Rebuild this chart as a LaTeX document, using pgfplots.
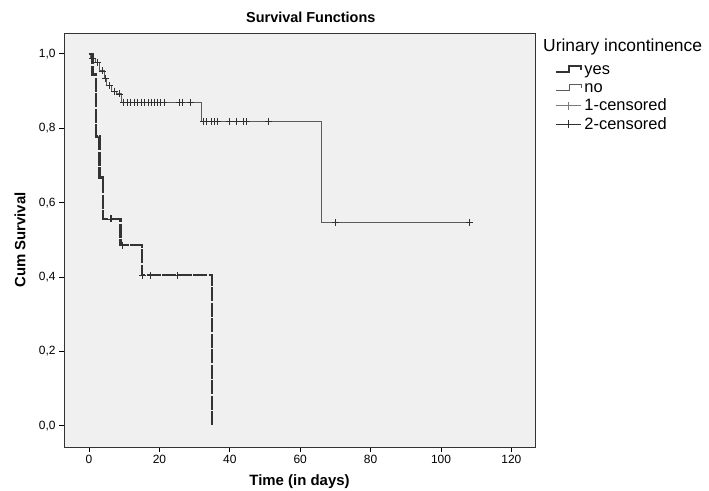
\documentclass[border=0pt]{standalone}
\usepackage{pgfplots}
\pgfplotsset{compat=1.18}
\usepackage{fontspec}
\setmainfont{Liberation Sans}
\definecolor{plotbg}{HTML}{F0F0F0}
\definecolor{yescol}{HTML}{333333}
\definecolor{nocol}{HTML}{5C5C5C}
\definecolor{cens1}{HTML}{7A7A7A}
\definecolor{cens2}{HTML}{303030}

% Kaplan-Meier steps (time in days, cumulative survival)
\pgfplotstableread{
t s
0 1.000
1 0.944
2 0.778
3 0.667
4 0.556
9 0.486
15 0.405
35 0.000
}\yesdata
\pgfplotstableread{
t s
0 1.000
0.5 0.987
1.9 0.978
3.1 0.954
4.3 0.935
5.1 0.914
6.5 0.900
7.9 0.892
9.3 0.870
32 0.818
66 0.546
108 0.546
}\nodata
\pgfplotstableread{
t s
6.0 0.556
6.5 0.556
9.6 0.486
15.3 0.405
17.5 0.405
25.0 0.405
}\yescens
\pgfplotstableread{
t s
1.0 0.987
2.5 0.978
3.7 0.954
4.7 0.935
5.8 0.914
7.2 0.900
8.6 0.892
9.9 0.870
10.9 0.870
11.9 0.870
12.8 0.870
13.8 0.870
14.8 0.870
15.8 0.870
16.8 0.870
17.7 0.870
18.6 0.870
19.5 0.870
20.4 0.870
21.3 0.870
25.7 0.870
26.4 0.870
28.7 0.870
32.5 0.818
33.3 0.818
34.7 0.818
35.5 0.818
36.4 0.818
39.9 0.818
41.8 0.818
44.0 0.818
44.8 0.818
51.0 0.818
70 0.546
108 0.546
}\nocens

\begin{document}
\begin{tikzpicture}
\useasboundingbox (0,0) rectangle (709bp,491bp);
\begin{axis}[
  at={(64bp,44bp)}, anchor=south west,
  scale only axis, width=471bp, height=414bp,
  xmin=-7.1, xmax=126.7, ymin=-0.057, ymax=1.056,
  clip=false,
  axis background/.style={fill=plotbg},
  axis line style={black!80, line width=0.8pt},
  xtick={0,20,40,60,80,100,120},
  ytick={0,0.2,0.4,0.6,0.8,1},
  tick align=outside, tick pos=left, major tick length=5bp,
  tick style={black, line width=0.8pt},
  /pgf/number format/use comma,
  /pgf/number format/assume math mode=true,
  yticklabel style={/pgf/number format/fixed, /pgf/number format/fixed zerofill,
                    /pgf/number format/precision=1},
  tick label style={font=\fontsize{12}{14}\selectfont},
  title={Survival Functions},
  title style={font=\fontsize{14.5}{17}\selectfont\bfseries,
               at={(axis description cs:0.524,1)}, anchor=center, yshift=10bp},
  xlabel={Time (in days)},
  ylabel={Cum Survival},
  label style={font=\fontsize{15}{17}\selectfont\bfseries},
  xlabel style={at={(axis description cs:0.5,-0.0845)}, anchor=center},
  ylabel style={at={(axis description cs:-0.0934,0.5)}, anchor=center},
  legend style={at={(axis description cs:1.042,0.935)}, anchor=north west,
                draw=none, fill=none, inner sep=0pt,
                font=\fontsize{16.5}{18}\selectfont, row sep=1bp},
  legend cell align=left,
]
\addplot[nocol, line width=1pt, const plot, forget plot] table[x=t, y=s] {\nodata};
\addplot[yescol, line width=2.5bp, const plot, dash pattern=on 14bp off 1.5bp, forget plot]
  table[x=t, y=s] {\yesdata};
\addplot[only marks, mark=+, mark size=3.5bp, mark options={cens2, line width=0.8pt}, forget plot]
  table[x=t, y=s] {\nocens};
\addplot[only marks, mark=+, mark size=3.5bp, mark options={cens2, line width=0.8pt}, forget plot]
  table[x=t, y=s] {\yescens};

\addlegendimage{legend image code/.code={
  \draw[yescol, line width=2.5bp] (0bp,-3bp) -- (13bp,-3bp) -- (13bp,3bp) -- (25bp,3bp) -- (25bp,-1bp);}}
\addlegendentry{yes\vphantom{dy}}
\addlegendimage{legend image code/.code={
  \draw[nocol, line width=0.8pt] (0bp,-3bp) -- (13bp,-3bp) -- (13bp,3bp) -- (25bp,3bp) -- (25bp,-1bp);}}
\addlegendentry{no\vphantom{dy}}
\addlegendimage{legend image code/.code={
  \draw[cens1, line width=0.8pt] (0bp,0bp) -- (25bp,0bp) (12.5bp,-4bp) -- (12.5bp,4bp);}}
\addlegendentry{1-censored\vphantom{dy}}
\addlegendimage{legend image code/.code={
  \draw[cens2, line width=0.8pt] (0bp,0bp) -- (25bp,0bp) (12.5bp,-4bp) -- (12.5bp,4bp);}}
\addlegendentry{2-censored\vphantom{dy}}

\node[anchor=west, inner sep=0pt, font=\fontsize{17.5}{19}\selectfont]
  at (axis description cs:1.017,0.966) {Urinary incontinence};
\end{axis}
\end{tikzpicture}
\end{document}
